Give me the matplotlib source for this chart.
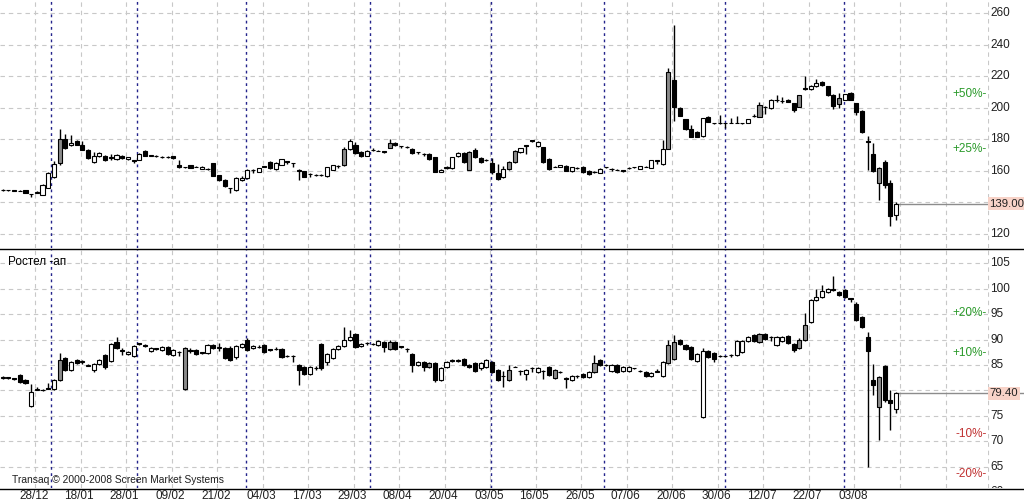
import matplotlib
matplotlib.use('Agg')
import matplotlib.pyplot as plt
from matplotlib.lines import Line2D
import matplotlib.transforms as mtransforms
import numpy as np

# ---------------- data ----------------
# top panel (price, first instrument)
top_open = [147.4,147.6,147.4,147.2,147.6,145.2,145.8,144.6,149.0,156.0,
            164.5,180.0,176.0,178.6,176.5,173.0,165.5,169.2,169.0,168.0,
            167.4,169.5,167.4,166.6,167.0,172.3,169.4,169.0,168.5,168.6,
            169.0,163.5,162.1,163.3,162.4,161.0,161.0,164.5,157.0,154.0,
            148.8,147.4,154.0,155.0,160.5,159.3,162.6,165.7,161.0,163.6,
            165.8,164.8,160.2,159.7,158.1,157.0,157.1,156.5,160.5,163.1,
            163.4,173.7,176.5,172.0,169.4,172.9,172.7,172.1,174.3,177.5,
            175.5,175.1,173.7,171.8,170.8,170.7,168.5,159.3,161.5,161.5,
            169.0,171.0,160.5,173.0,168.0,166.8,164.6,158.3,155.8,161.0,
            165.3,171.6,175.9,179.1,175.8,174.7,167.4,162.4,162.5,163.0,
            159.6,161.6,162.5,160.0,158.8,158.5,162.0,161.1,160.3,160.1,
            161.6,162.1,161.0,162.4,161.7,166.4,164.2,173.7,217.3,200.0,
            192.6,186.5,184.7,182.0,194.0,190.1,190.1,190.1,190.4,190.4,
            190.1,190.2,194.4,194.2,200.6,199.5,205.1,204.1,205.0,202.6,
            200.5,212.1,211.5,213.6,216.3,213.6,208.0,202.2,204.8,209.0,
            202.6,198.0,178.5,170.5,152.0,165.7,152.0,132.0]
top_high = [148.2,147.8,147.6,147.4,147.8,145.4,146.8,151.5,158.8,166.2,
            186.5,183.0,182.5,179.5,178.5,173.5,171.5,171.8,169.6,170.2,
            170.4,170.0,168.8,166.8,171.0,172.8,170.0,169.6,169.2,169.2,
            169.4,166.4,162.4,163.6,162.6,162.6,161.8,165.0,157.4,154.4,
            149.0,155.8,156.5,160.8,160.7,161.8,162.8,166.0,165.4,167.6,
            166.0,165.0,161.0,160.0,158.3,157.8,157.8,162.3,163.6,163.3,
            175.0,180.0,178.0,172.4,173.0,174.0,172.9,172.3,180.0,178.0,
            175.7,175.3,174.0,172.0,171.0,171.0,168.8,160.8,162.8,168.8,
            171.5,171.6,172.3,174.0,168.4,167.4,167.8,164.4,163.0,166.0,
            172.8,174.4,176.0,179.4,178.6,175.0,167.8,163.0,163.8,163.4,
            162.4,162.2,162.8,160.3,159.6,161.3,162.5,161.3,161.0,160.3,
            162.2,162.3,163.0,163.0,167.0,166.6,179.4,225.0,252.4,200.5,
            193.0,189.0,185.2,193.5,194.5,190.3,195.2,190.3,193.5,194.5,
            190.3,192.8,196.0,203.7,200.8,205.4,208.0,207.0,205.4,203.0,
            208.2,220.0,214.4,218.4,217.0,214.0,208.4,209.5,208.6,210.0,
            203.0,198.4,182.0,177.3,162.0,166.7,154.0,139.8]
top_low = [147.2,147.3,147.2,146.8,145.9,143.2,145.6,144.2,148.6,155.5,
           163.5,173.5,175.5,176.0,172.8,167.6,165.0,168.8,166.0,167.0,
           167.0,167.4,167.0,164.5,166.6,169.2,169.2,168.8,168.0,168.0,
           167.5,161.5,161.8,161.5,162.0,160.8,160.4,156.5,153.6,149.6,
           146.0,147.0,153.6,154.6,158.5,158.9,162.2,161.2,160.6,163.2,
           164.0,162.5,154.0,155.6,156.0,156.4,156.4,156.1,160.2,161.5,
           163.0,173.2,170.6,168.6,169.0,172.4,172.4,171.0,174.0,175.6,
           174.0,174.0,170.6,170.6,169.4,166.8,159.0,159.0,161.2,161.2,
           168.6,165.0,160.2,168.0,165.0,165.8,158.0,154.0,155.2,160.6,
           165.0,171.2,170.5,178.0,174.7,165.0,160.6,162.0,162.2,159.6,
           159.3,161.2,158.6,157.2,158.6,158.2,161.5,160.0,160.2,159.0,
           161.2,161.8,160.8,162.0,161.4,164.2,163.8,173.4,191.6,194.4,
           186.0,181.0,181.0,181.6,190.6,189.8,189.8,187.0,190.0,190.0,
           189.8,190.0,194.2,193.8,196.0,199.2,203.7,202.8,203.4,197.0,
           200.2,211.0,211.2,213.3,213.8,207.6,199.0,199.5,204.5,204.5,
           195.5,184.0,160.4,159.0,141.4,149.0,125.0,128.6]
top_close = [147.8,147.4,147.3,147.0,146.0,144.9,146.2,151.0,158.5,164.0,
             180.0,174.0,177.5,176.5,173.0,168.0,169.5,171.0,166.4,168.6,
             170.0,167.8,168.4,166.3,170.6,169.5,169.7,169.1,168.6,168.5,
             167.8,162.5,162.0,161.7,162.3,162.3,161.1,156.8,154.0,150.0,
             148.6,155.4,155.5,160.4,160.3,161.5,162.5,161.5,165.0,167.2,
             165.6,164.6,160.0,156.0,158.0,157.1,157.0,162.0,163.3,163.0,
             173.7,179.0,171.0,169.0,172.6,173.0,172.6,172.0,177.5,176.0,
             175.4,175.0,171.0,171.7,170.7,167.2,159.3,160.4,162.5,168.5,
             171.0,165.5,172.0,168.4,165.3,166.7,159.0,154.7,161.0,165.7,
             172.6,174.0,175.8,179.0,178.3,165.3,161.0,162.5,163.6,160.0,
             162.0,161.7,159.0,157.5,159.0,161.0,162.1,161.0,160.5,160.0,
             161.7,162.0,162.7,162.5,166.7,166.3,173.7,222.7,200.4,194.7,
             186.3,181.3,181.5,193.1,191.0,190.0,190.0,190.0,190.5,190.5,
             190.0,192.5,194.6,201.5,200.5,205.0,205.0,204.0,203.6,198.4,
             207.9,212.0,214.0,215.7,214.2,208.0,201.0,205.8,208.3,204.8,
             197.3,184.3,178.4,160.0,161.5,151.0,131.0,139.0]
top_gray = [10, 60, 68, 82, 89, 90, 117, 133, 140, 147, 154]

# bottom panel ("Ростел -ап")
bot_open = [82.4,82.6,82.4,83.1,82.0,77.0,80.1,80.1,80.4,80.3,
            82.1,86.4,84.0,86.0,85.6,84.8,84.0,85.2,87.0,85.8,
            89.5,87.8,87.1,86.7,89.3,89.0,87.7,88.3,87.9,88.5,
            86.9,87.6,88.4,87.8,88.0,87.5,87.4,89.0,88.4,88.4,
            88.4,86.5,88.6,90.0,88.3,88.6,88.9,88.1,88.2,88.2,
            86.8,86.8,85.0,84.6,83.2,84.3,89.2,85.6,86.4,88.2,
            88.7,89.9,91.0,88.7,89.3,89.2,88.9,89.5,88.2,89.5,
            88.7,88.2,87.2,85.0,85.6,84.6,85.4,82.0,84.6,85.8,
            85.8,86.1,84.9,85.3,84.3,84.6,85.6,84.0,82.9,82.0,
            84.6,83.9,83.3,84.4,83.7,83.9,84.6,84.0,83.7,82.4,
            82.1,82.8,83.2,82.7,83.6,85.9,85.0,83.8,84.9,83.8,
            83.9,84.3,83.9,83.6,82.8,83.7,82.9,85.3,86.2,89.9,
            88.9,88.6,85.7,74.8,87.7,87.4,86.7,86.7,87.0,86.9,
            87.5,89.8,90.8,89.5,91.0,90.5,88.9,89.8,90.6,89.2,
            88.4,90.0,93.4,97.8,98.3,99.3,99.9,99.3,99.8,98.1,
            97.0,94.4,90.5,82.0,82.6,84.7,78.2,76.4]
bot_high = [82.8,82.7,82.5,83.3,82.2,81.3,80.6,80.2,81.5,82.2,
            87.3,86.6,85.8,86.2,86.0,85.2,85.4,86.1,87.2,89.4,
            90.4,88.3,87.7,89.0,89.4,89.2,88.6,88.4,88.7,88.7,
            88.2,87.8,88.6,88.3,88.2,87.6,89.1,89.2,89.4,88.6,
            88.7,88.9,89.3,90.2,88.9,88.9,89.1,88.2,88.6,88.4,
            86.9,86.9,85.2,84.8,84.8,84.8,89.4,87.3,88.4,88.9,
            92.4,91.8,91.2,89.4,89.6,89.4,89.9,89.7,90.0,89.7,
            88.8,88.3,87.4,85.8,85.8,85.6,85.6,84.5,85.8,86.2,
            86.2,86.3,85.1,85.5,85.5,86.1,85.8,84.2,83.8,85.0,
            84.7,84.1,84.2,84.5,84.5,84.0,84.8,84.2,83.8,82.6,
            83.0,83.1,83.4,83.8,86.9,86.1,85.1,85.1,85.1,84.8,
            84.8,84.4,84.0,83.8,83.6,84.2,85.8,90.0,90.8,90.1,
            89.2,88.8,87.4,88.4,87.9,87.6,87.0,86.8,87.2,89.9,
            90.0,90.7,91.0,91.3,91.2,90.6,90.6,90.6,90.8,89.4,
            90.2,95.3,98.0,100.0,100.8,100.2,102.4,99.5,100.0,98.2,
            97.3,94.6,91.5,85.1,82.8,84.9,80.0,79.6]
bot_low = [82.3,82.3,82.1,81.4,81.3,76.8,80.0,79.8,80.2,80.0,
           81.8,83.9,83.8,85.2,85.2,84.7,83.6,85.0,84.2,85.6,
           88.2,87.0,87.0,86.5,89.0,88.5,87.5,88.0,87.7,87.0,
           86.7,86.8,80.1,87.3,87.0,87.2,87.2,88.2,87.8,86.2,
           85.8,86.2,88.4,87.8,88.1,88.3,87.4,87.8,87.9,86.4,
           86.5,85.6,81.0,83.0,83.0,84.0,84.1,85.0,86.2,88.0,
           88.5,89.7,88.4,88.5,89.0,88.9,88.7,87.5,88.0,88.0,
           88.4,87.5,83.6,84.8,83.9,84.4,81.6,81.8,84.4,85.5,
           85.5,84.7,84.4,83.6,84.1,84.4,83.4,81.8,80.7,81.8,
           84.5,83.0,82.1,83.6,83.5,82.3,82.8,82.3,83.4,80.5,
           81.9,82.5,82.5,82.5,83.4,84.7,84.7,83.6,83.4,83.6,
           83.7,84.2,83.6,82.7,82.6,83.6,82.7,85.1,86.0,88.9,
           88.0,85.9,85.5,74.6,86.4,85.5,86.6,86.6,86.6,86.7,
           87.3,89.6,89.6,89.3,89.9,89.8,88.7,89.6,89.1,87.6,
           88.2,89.8,93.2,97.6,98.1,99.1,99.6,98.5,98.1,97.4,
           93.6,92.2,65.0,79.0,70.2,77.8,72.2,75.6]
bot_close = [82.6,82.5,82.3,81.6,81.5,79.7,80.2,80.0,80.3,82.0,
             85.9,84.1,85.6,85.4,85.7,84.9,85.2,85.9,84.6,89.2,
             88.4,87.9,87.5,88.8,89.2,88.7,88.4,88.2,88.5,87.2,
             88.0,87.5,80.3,87.9,87.2,87.4,88.9,88.4,88.5,86.4,
             86.0,88.7,89.1,88.0,88.7,88.6,87.6,88.0,88.2,86.6,
             86.7,86.7,84.0,83.2,84.6,84.3,84.3,87.1,88.2,88.7,
             90.0,90.5,88.6,89.2,89.3,89.2,89.7,88.6,89.5,88.2,
             88.6,88.1,85.0,85.6,84.6,85.4,82.0,84.3,85.6,85.9,
             85.9,84.9,84.6,83.8,85.3,85.9,83.6,82.0,82.8,84.0,
             84.6,83.8,84.0,84.3,84.3,83.8,83.0,82.5,83.6,82.3,
             82.8,82.8,82.7,83.6,85.3,84.9,84.9,84.9,83.6,84.6,
             84.6,84.3,83.8,82.9,83.4,83.8,85.6,88.9,89.5,89.1,
             88.2,86.1,87.2,87.7,86.6,86.2,86.8,86.7,86.9,89.7,
             89.8,90.5,89.8,91.1,90.1,90.4,90.4,90.4,89.3,87.9,
             90.0,92.8,97.8,98.3,99.5,100.0,99.8,98.7,98.3,98.0,
             93.8,92.5,87.7,81.0,76.8,78.1,77.5,79.4]
bot_gray = [10, 32, 68, 75, 89, 97, 104, 117, 118, 133, 140, 141, 154]

x_labels = ['28/12', '18/01', '28/01', '09/02', '21/02', '04/03', '17/03',
            '29/03', '08/04', '20/04', '03/05', '16/05', '26/05', '07/06',
            '20/06', '30/06', '12/07', '22/07', '03/08']
month_starts = [8.5, 23.6, 42.7, 64.6, 85.8, 105.7, 126.9, 147.9]
top_ticks = [120, 140, 160, 180, 200, 220, 240, 260]
bot_ticks = [60, 65, 70, 75, 80, 85, 90, 95, 100, 105]
top_pct = [0.50, 0.25]
bot_pct = [0.20, 0.10, -0.10, -0.20]

# ---------------- figure ----------------
W, H = 1024, 504
plt.rcParams['font.family'] = ['Liberation Sans', 'DejaVu Sans']
fig = plt.figure(figsize=(W / 100, H / 100), dpi=100)
fig.patch.set_facecolor('white')


def px_rect(x0, y0, x1, y1):
    return [x0 / W, 1 - y1 / H, (x1 - x0) / W, (y1 - y0) / H]


ax1 = fig.add_axes(px_rect(0, 0, 988, 248))
ax2 = fig.add_axes(px_rect(0, 250, 988, 488))
lab1 = fig.add_axes(px_rect(988, 0, 1024, 248))
lab2 = fig.add_axes(px_rect(988, 250, 1024, 488))

XL = (-2.7 / 5.69, (988 - 2.7) / 5.69)
grid_x = 5.7 + 8 * np.arange(22)
FS = 8.5
GRID = '#c8c8c8'
BLUE = '#24248c'


def panel(ax, lab, o, h, l, c, gray, ylim, ticks, pcts, name=None, fmt='{:.2f}'):
    o, h, l, c = map(np.asarray, (o, h, l, c))
    x = np.arange(len(o))
    ax.set_xlim(*XL)
    ax.set_ylim(*ylim)
    ax.axis('off')
    lab.set_xlim(0, 1)
    lab.set_ylim(*ylim)
    lab.axis('off')
    # grid
    for t in ticks:
        ax.axhline(t, color=GRID, lw=0.8, dashes=(4, 3.5), zorder=1)
    for gx in grid_x:
        ax.axvline(gx, color=GRID, lw=0.8, dashes=(4, 3.5), zorder=1)
    for mx in month_starts:
        ax.axvline(mx, color=BLUE, lw=1.0, dashes=(2, 2.5), zorder=2)
    lab.axvline(0.01, color=GRID, lw=0.8, dashes=(4, 3.5), zorder=1)
    # candles
    ax.vlines(x, l, h, color='black', lw=1.0, zorder=3)
    bottoms = np.minimum(o, c)
    heights = np.abs(c - o)
    colors = ['#8a8a8a' if i in gray else ('white' if c[i] >= o[i] else 'black')
              for i in x]
    ax.bar(x, heights, width=0.72, bottom=bottoms, color=colors,
           edgecolor='black', linewidth=0.8, zorder=4)
    last = c[-1]
    # last price line and label
    ax.hlines(last, x[-1], XL[1], color='#8c8c8c', lw=1.0, zorder=3)
    lab.hlines(last, 0, 1, color='#8c8c8c', lw=1.0, zorder=3)
    for t in ticks:
        if abs(t - last) < (ylim[1] - ylim[0]) * 0.045:
            continue
        lab.text(0.06, t, str(t), ha='left', va='center', fontsize=FS,
                 color='#202020', clip_on=True)
    lab.text(0.04, last, fmt.format(last), ha='left', va='center',
             fontsize=8.2, color='#202020', zorder=5,
             bbox=dict(boxstyle='square,pad=0.15', fc='#f8d3c8', ec='none'))
    tr = mtransforms.blended_transform_factory(ax.transAxes, ax.transData)
    for p in pcts:
        lv = last * (1 + p)
        s = ('+' if p > 0 else '-') + '{:d}%-'.format(int(round(abs(p) * 100)))
        ax.text(0.999, lv, s, transform=tr, ha='right', va='center',
                fontsize=FS, color='#2a9a2a' if p > 0 else '#c03030', zorder=5)
    if name:
        ax.text(8 / 988, 1 - 12 / 238, name, transform=ax.transAxes,
                ha='left', va='center', fontsize=FS, color='black', zorder=6)


panel(ax1, lab1, top_open, top_high, top_low, top_close, top_gray,
      (110.8, 268.3), top_ticks, top_pct)
panel(ax2, lab2, bot_open, bot_high, bot_low, bot_close, bot_gray,
      (60.8, 107.6), bot_ticks, bot_pct, name='Ростел -ап')

# copyright text
ax2.text(12 / 988, 1 - 230 / 238, 'Transaq \u00a9 2000-2008 Screen Market Systems',
         transform=ax2.transAxes, ha='left', va='center', fontsize=7.4,
         color='#202020', zorder=6)

# date labels under the lower panel
for gx, s in zip(grid_x, x_labels):
    xf = ax2.transData.transform((gx, 0))[0]
    fig.text(xf / W - 1.5 / W, 1 - 496 / H, s, ha='center', va='center',
             fontsize=FS, color='#202020')

# separator lines
fig.add_artist(Line2D([0, 1], [1 - 248.5 / H, 1 - 248.5 / H], color='black',
                      lw=1.0, transform=fig.transFigure))
fig.add_artist(Line2D([0, 1], [1 - 488.5 / H, 1 - 488.5 / H], color='black',
                      lw=1.0, transform=fig.transFigure))

fig.savefig('out.png', dpi=100, facecolor='white')
